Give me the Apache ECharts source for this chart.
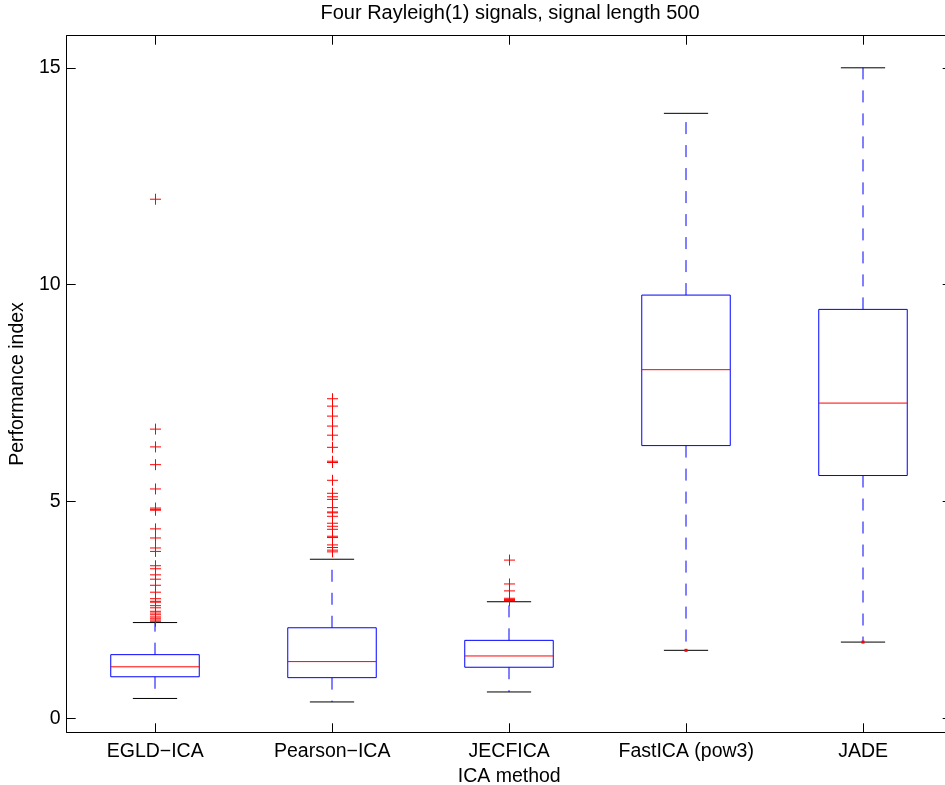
<!DOCTYPE html>
<html>
<head>
<meta charset="utf-8">
<script src="https://cdn.jsdelivr.net/npm/echarts@6/dist/echarts.min.js"></script>
<style>
  html, body { margin: 0; padding: 0; background: #fff; }
  #main { width: 945px; height: 785px; }
</style>
</head>
<body>
<div id="main"></div>
<script>
// box statistics, one entry per ICA method
const methods = ['EGLD\u2212ICA', 'Pearson\u2212ICA', 'JECFICA', 'FastICA (pow3)', 'JADE'];
const lowerWhisker = [0.46, 0.38, 0.61, 1.57, 1.76];
const q1 = [0.96, 0.94, 1.18, 6.29, 5.60];
const median = [1.19, 1.31, 1.44, 8.04, 7.27];
const q3 = [1.47, 2.09, 1.80, 9.76, 9.43];
const upperWhisker = [2.21, 3.67, 2.69, 13.95, 15.0];
// small red dot sitting on the lower cap
const lowDot = [false, false, false, true, true];

// outliers (red +)
const outEGLD = [11.97, 6.67, 6.26, 5.85, 5.29, 4.85, 4.82, 4.80, 4.37, 4.16, 3.93, 3.85,
  3.52, 3.45, 3.31, 3.21, 3.07, 2.91, 2.76, 2.70, 2.68, 2.60, 2.55, 2.47, 2.43, 2.39,
  2.34, 2.31, 2.27, 2.24];
const outPearson = [7.37, 7.20, 6.97, 6.74, 6.53, 6.25, 5.93, 5.90, 5.49, 5.19, 5.11, 5.05,
  4.86, 4.76, 4.74, 4.66, 4.50, 4.43, 4.36, 4.20, 4.17, 4.00, 3.94, 3.88, 3.84];
const outJECFICA = [3.65, 3.10, 2.94, 2.77, 2.74, 2.72];
const outFastICA = [];
const outJADE = [];

const yTicks = [0, 5, 10, 15];
const FONT = '"Liberation Sans", Arial, Helvetica, sans-serif';
const FS = 19.5;

const chart = echarts.init(document.getElementById('main'), null, { renderer: 'canvas' });

const boxData = methods.map(function (m, i) {
  return [i, lowerWhisker[i], q1[i], median[i], q3[i], upperWhisker[i], lowDot[i] ? 1 : 0];
});

const outlierData = [];
[outEGLD, outPearson, outJECFICA, outFastICA, outJADE].forEach(function (arr, i) {
  arr.forEach(function (v) { outlierData.push([i, v]); });
});

function renderBox(params, api) {
  const x = api.value(0);
  const band = api.size([1, 0])[0];
  const half = band * 0.25;
  const capHalf = band * 0.125;
  const pLow = api.coord([x, api.value(1)]);
  const pQ1 = api.coord([x, api.value(2)]);
  const pMed = api.coord([x, api.value(3)]);
  const pQ3 = api.coord([x, api.value(4)]);
  const pHigh = api.coord([x, api.value(5)]);
  const cx = Math.round(pMed[0]);
  const dash = { stroke: '#0000ff', lineWidth: 1, lineDash: [12, 11] };
  const cap = { stroke: '#000', lineWidth: 1 };
  const children = [
    { type: 'line', shape: { x1: cx, y1: pQ3[1], x2: cx, y2: pHigh[1] }, style: dash },
    { type: 'line', shape: { x1: cx, y1: pQ1[1], x2: cx, y2: pLow[1] }, style: dash },
    { type: 'line', shape: { x1: cx - capHalf, y1: pHigh[1], x2: cx + capHalf, y2: pHigh[1] }, style: cap },
    { type: 'line', shape: { x1: cx - capHalf, y1: pLow[1], x2: cx + capHalf, y2: pLow[1] }, style: cap },
    {
      type: 'rect',
      shape: { x: cx - half, y: pQ3[1], width: half * 2, height: pQ1[1] - pQ3[1] },
      style: { fill: 'none', stroke: '#0000ff', lineWidth: 1 }
    },
    { type: 'line', shape: { x1: cx - half, y1: pMed[1], x2: cx + half, y2: pMed[1] }, style: { stroke: '#ff0000', lineWidth: 1 } }
  ];
  if (api.value(6)) {
    children.push({ type: 'rect', shape: { x: cx - 1.5, y: pLow[1] - 1.5, width: 3, height: 3 }, style: { fill: '#ff0000' } });
  }
  return { type: 'group', children: children };
}

function renderPlus(params, api) {
  const p = api.coord([api.value(0), api.value(1)]);
  const cx = Math.round(p[0]) + 0.5;
  const s = 5.5;
  const st = { stroke: '#ff0000', lineWidth: 1 };
  return {
    type: 'group',
    children: [
      { type: 'line', shape: { x1: cx - s, y1: p[1], x2: cx + s, y2: p[1] }, style: st },
      { type: 'line', shape: { x1: cx, y1: p[1] - s, x2: cx, y2: p[1] + s }, style: st }
    ]
  };
}

const tickStyle = { show: true, inside: true, length: 9, lineStyle: { color: '#000', width: 1 } };
const lineStyle = { show: true, onZero: false, lineStyle: { color: '#000', width: 1 } };

const option = {
  animation: false,
  backgroundColor: '#fff',
  textStyle: { fontFamily: FONT },
  grid: {
    left: 66.7, top: 35.7, width: 885, height: 696.6,
    containLabel: false, outerBoundsMode: 'none'
  },
  graphic: [{
    type: 'text',
    x: 510, y: 13,
    style: {
      text: 'Four Rayleigh(1) signals, signal length 500',
      fontFamily: FONT, fontSize: 20, fill: '#000',
      textAlign: 'center', textVerticalAlign: 'middle'
    }
  }],
  xAxis: [{
    type: 'category',
    data: methods,
    boundaryGap: true,
    position: 'bottom',
    name: 'ICA method',
    nameLocation: 'middle',
    nameGap: 30,
    nameTextStyle: { color: '#000', fontSize: FS, fontFamily: FONT },
    axisLine: lineStyle,
    axisTick: Object.assign({ alignWithLabel: true }, tickStyle),
    axisLabel: { color: '#000', fontSize: FS, fontFamily: FONT, margin: 9, interval: 0, hideOverlap: false },
    splitLine: { show: false }
  }, {
    type: 'category',
    data: methods,
    boundaryGap: true,
    position: 'top',
    axisLine: lineStyle,
    axisTick: Object.assign({ alignWithLabel: true, interval: 0 }, tickStyle),
    axisLabel: { show: false },
    splitLine: { show: false }
  }],
  yAxis: [{
    type: 'value',
    min: -0.32,
    max: 15.74,
    position: 'left',
    name: 'Performance index',
    nameLocation: 'middle',
    nameGap: 37,
    nameTextStyle: { color: '#000', fontSize: FS, fontFamily: FONT },
    axisLine: lineStyle,
    axisTick: Object.assign({ customValues: yTicks }, tickStyle),
    axisLabel: { color: '#000', fontSize: FS, fontFamily: FONT, margin: 6, customValues: yTicks },
    splitLine: { show: false }
  }, {
    type: 'value',
    min: -0.32,
    max: 15.74,
    position: 'right',
    axisLine: lineStyle,
    axisTick: Object.assign({ customValues: yTicks }, tickStyle),
    axisLabel: { show: false },
    splitLine: { show: false }
  }],
  series: [{
    type: 'custom',
    name: 'box',
    xAxisIndex: 0,
    yAxisIndex: 0,
    renderItem: renderBox,
    encode: { x: 0, y: [1, 2, 3, 4, 5] },
    data: boxData,
    clip: false,
    z: 2
  }, {
    type: 'custom',
    name: 'outliers',
    xAxisIndex: 0,
    yAxisIndex: 0,
    renderItem: renderPlus,
    encode: { x: 0, y: 1 },
    data: outlierData,
    clip: false,
    z: 3
  }]
};

chart.setOption(option);
</script>
</body>
</html>
